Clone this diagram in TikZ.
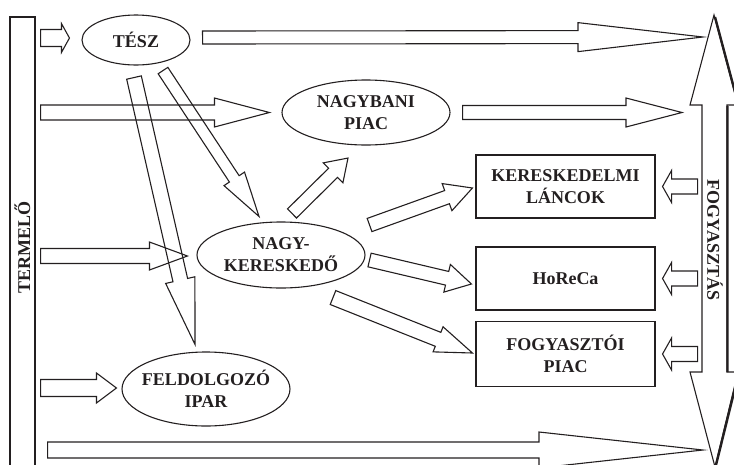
\documentclass[tikz,border=0pt]{standalone}
\usepackage{fontspec}
\setmainfont{Liberation Serif}
\usepackage{graphicx}
\usetikzlibrary{calc, shapes.geometric}

\definecolor{ink}{RGB}{35,31,32}

% hollow block arrow: start, end, half shaft, half head, head length
\newcommand{\fatarrow}[5]{%
  \coordinate (fa-a) at #1;
  \coordinate (fa-b) at #2;
  \coordinate (fa-h) at ($(fa-b)!#5!(fa-a)$);
  \draw[fat] ($(fa-a)!#3!90:(fa-b)$) -- ($(fa-h)!#3!90:(fa-b)$)
    -- ($(fa-h)!#4!90:(fa-b)$) -- (fa-b) -- ($(fa-h)!#4!-90:(fa-b)$)
    -- ($(fa-h)!#3!-90:(fa-b)$) -- ($(fa-a)!#3!-90:(fa-b)$) -- cycle;
}

\begin{document}
\begin{tikzpicture}[x=1pt, y=-1pt,
  every node/.style={font=\fontsize{18}{22}\selectfont\bfseries, text=ink, align=center},
  fat/.style={draw=ink, line width=1.1pt, line join=miter},
  actor/.style={draw=ink, line width=1.1pt, ellipse, inner sep=0pt},
  outlet/.style={draw=ink, line width=1.1pt, rectangle, minimum width=179pt, minimum height=63pt, inner sep=0pt}]
\useasboundingbox (0,0) rectangle (734,464);

\node[draw=ink, line width=1.1pt, minimum width=25pt, minimum height=461pt, inner sep=0pt] (termelo) at (22.5,247.5) {\rotatebox{90}{TERMELŐ}};

\node[actor, minimum width=108pt, minimum height=50pt] (tesz) at (136,40) {TÉSZ};
\node[actor, minimum width=168pt, minimum height=65pt] (nagybani) at (366,112.5) {NAGYBANI\\PIAC};
\node[actor, minimum width=168pt, minimum height=66pt] (nagyker) at (281,255) {NAGY-\\KERESKEDŐ};
\node[actor, minimum width=168pt, minimum height=74pt, inner xsep=-6pt] (feldolg) at (206,389) {FELDOLGOZÓ\\IPAR};

\node[outlet] (lancok) at (565.5,186.5) {KERESKEDELMI\\LÁNCOK};
\node[outlet] (horeca) at (565.5,278.5) {HoReCa};
\node[outlet, minimum height=65pt] (fogypiac) at (565.5,354) {FOGYASZTÓI\\PIAC};

% fogyasztas double arrow
\draw[fat] (714,15) -- (738,105) -- (727,105) -- (727,372) -- (738,372) -- (715,467)
  -- (690,372) -- (702,372) -- (702,105) -- (690,105) -- cycle;
\draw[ink, line width=2.4pt] (715,17) -- (739,107) (727.5,106) -- (727.5,372) (739,372) -- (716,465);
\node (fogy) at (715,240) {\rotatebox{-90}{FOGYASZTÁS}};
\coordinate (ft1) at (703,37);
\coordinate (ft2) at (682,112.5);
\coordinate (ft3) at (703,450);

% from termelo
\fatarrow{($(termelo.east |- tesz)+(5,-2)$)}{($(tesz.west)+(-12,-2)$)}{8.5pt}{14.5pt}{8pt}
\fatarrow{($(termelo.east |- nagybani)+(5,0)$)}{($(nagybani.west)+(-12,0)$)}{7.5pt}{14.5pt}{55pt}
\fatarrow{($(termelo.east |- nagyker)+(5,1)$)}{($(nagyker.west)+(-9,1)$)}{7.5pt}{14pt}{38pt}
\fatarrow{($(termelo.east |- feldolg)+(5,-1)$)}{($(feldolg.west)+(-5,-1)$)}{8.5pt}{15pt}{20pt}
\fatarrow{($(termelo.east |- ft3)+(12,0)$)}{(ft3)}{8pt}{18pt}{164pt}

% from tesz
\fatarrow{($(tesz.east)+(12,-2.5)$)}{(ft1)}{6.5pt}{14.5pt}{125pt}
\fatarrow{($(tesz.south)+(27,5)$)}{($(nagyker.north)+(-22,-5)$)}{5.8pt}{12.3pt}{45pt}
\fatarrow{($(tesz.south)+(-2,12)$)}{($(feldolg.north)+(-11,-7)$)}{7.5pt}{15pt}{66pt}

% from nagybani and nagyker
\fatarrow{($(nagybani.east)+(12,0)$)}{(ft2)}{7pt}{14.5pt}{56pt}
\fatarrow{($(nagyker.north)+(11,-8)$)}{($(nagybani.south)+(-18,12.5)$)}{6.4pt}{14pt}{21pt}
\fatarrow{($(nagyker.east)+(4,-30)$)}{($(lancok.west)+(-3,1.5)$)}{7pt}{14.4pt}{27pt}
\fatarrow{($(nagyker.east)+(4,5)$)}{($(horeca.west)+(-4,5.5)$)}{7pt}{14.2pt}{25pt}
\fatarrow{($(nagyker.south)+(52,9)$)}{($(fogypiac.west)+(-3,-1)$)}{7.5pt}{13.5pt}{37pt}

% back from fogyasztas
\fatarrow{($(lancok.east)+(42,0)$)}{($(lancok.east)+(7,0)$)}{7.5pt}{16pt}{9pt}
\fatarrow{($(horeca.east)+(42,0)$)}{($(horeca.east)+(7,0)$)}{7.5pt}{16pt}{9pt}
\fatarrow{($(fogypiac.east)+(42,0)$)}{($(fogypiac.east)+(7,0)$)}{7.5pt}{16pt}{9pt}
\end{tikzpicture}
\end{document}
